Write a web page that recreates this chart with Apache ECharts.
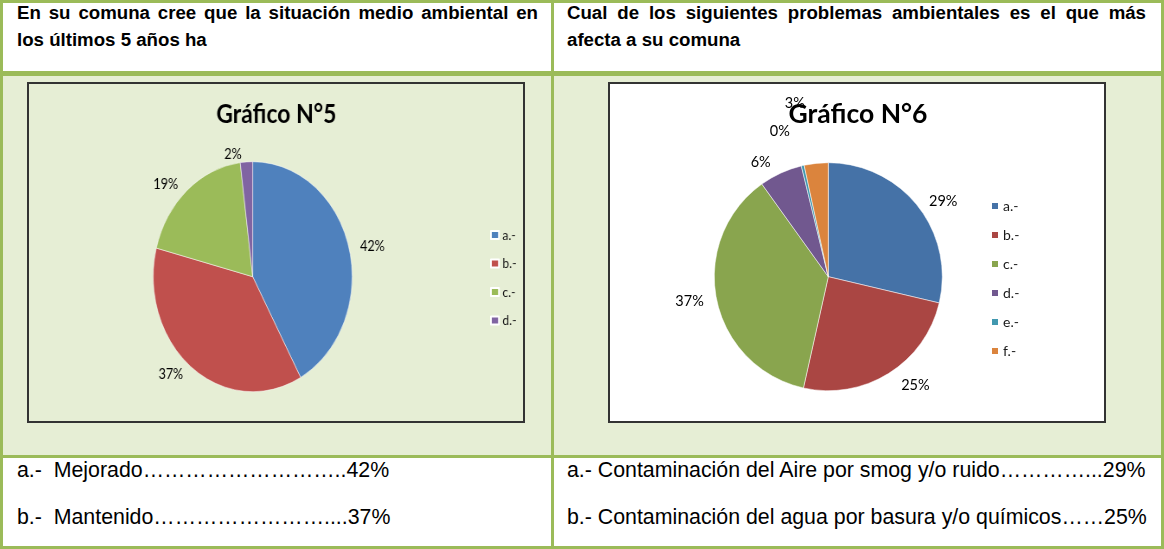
<!DOCTYPE html>
<html lang="es">

<head>
    <meta charset="UTF-8">
    <title>Gráfico N°5 y N°6</title>
    <script src="https://cdn.jsdelivr.net/npm/echarts@6/dist/echarts.min.js"></script>
    <style>
        body { margin: 0; width: 1164px; height: 549px; position: relative; overflow: hidden; background: #fff;
               font-family: "Liberation Sans", Arial, sans-serif; color: #000; }
        .line { position: absolute; background: #9bbb59; }
        .band { position: absolute; background: #e6eed5; }
        .head { position: absolute; top: -1px; font-weight: bold; font-size: 18.67px; line-height: 27px; text-align: justify; }
        .txt { position: absolute; font-size: 21.33px; line-height: 24px; white-space: pre; }
        .box { position: absolute; border: 2px solid #333; box-sizing: border-box; }
        .chart { position: absolute; }
    </style>
</head>

<body>
    <div class="band" style="left:3px;top:76px;width:1158px;height:379px"></div>

    <div class="line" style="left:0;top:0;width:1164px;height:3px"></div>
    <div class="line" style="left:0;top:71px;width:1164px;height:5px"></div>
    <div class="line" style="left:0;top:455px;width:1164px;height:3px"></div>
    <div class="line" style="left:0;top:546px;width:1164px;height:3px"></div>
    <div class="line" style="left:0;top:0;width:3px;height:549px"></div>
    <div class="line" style="left:551px;top:0;width:3px;height:549px"></div>
    <div class="line" style="left:1161px;top:0;width:3px;height:549px"></div>

    <div class="head" style="left:17px;width:521px">En su comuna cree que la situación medio ambiental en los últimos 5 años ha</div>
    <div class="head" style="left:567px;width:579px">Cual de los siguientes problemas ambientales es el que más afecta a su comuna</div>

    <div class="box" style="left:27px;top:82px;width:498px;height:341px"></div>
    <div class="box" style="left:608px;top:82px;width:498px;height:341px;background:#fff"></div>

    <!-- el gráfico 5 está achatado en horizontal, igual que en el original -->
    <div class="chart" id="pie5" style="left:29px;top:84px;width:571px;height:337px;transform:scaleX(0.865);transform-origin:0 0"></div>
    <div class="chart" id="pie6" style="left:610px;top:84px;width:494px;height:337px"></div>

    <div class="txt" style="left:17px;top:458px">a.-  Mejorado………………………..42%</div>
    <div class="txt" style="left:17px;top:505px">b.-  Mantenido……………………....37%</div>
    <div class="txt" style="left:567px;top:458px">a.- Contaminación del Aire por smog y/o ruido…………...29%</div>
    <div class="txt" style="left:567px;top:505px">b.- Contaminación del agua por basura y/o químicos……25%</div>

    <script>
        // datos
        let names5 = ['a.-', 'b.-', 'c.-', 'd.-'];
        let values5 = [42, 37, 19, 2];
        let colors5 = ['#4f81bd', '#c0504d', '#9bbb59', '#8064a2'];

        let names6 = ['a.-', 'b.-', 'c.-', 'd.-', 'e.-', 'f.-'];
        let values6 = [28.7, 24.8, 36.6, 6.1, 0.4, 3.4];
        let colors6 = ['#4572a7', '#aa4643', '#89a54e', '#71588f', '#4198af', '#db843d'];

        function pieOption(title, names, values, colors, o) {
            let data = [];
            for (let i = 0; i < names.length; i++) {
                let item = { name: names[i], value: values[i] };
                // separación de las etiquetas pequeñas, como en Excel
                if (o.lens && o.lens[i]) {
                    item.labelLine = { length: o.lens[i], length2: 0 };
                }
                data.push(item);
            }
            return {
                animation: false,
                color: colors,
                title: {
                    text: title,
                    left: o.titleX,
                    top: 10,
                    textAlign: 'center',
                    textStyle: { fontFamily: 'Lato', fontWeight: 'bold', fontSize: 26.5, lineHeight: 30, color: '#000' }
                },
                legend: {
                    orient: 'vertical',
                    left: o.legendX,
                    top: o.legendY,
                    padding: 0,
                    itemWidth: o.iconW,
                    itemHeight: 8,
                    itemGap: o.gap,
                    icon: 'rect',
                    textStyle: { fontFamily: 'Lato', fontSize: 14, lineHeight: 15, color: '#1a1a1a', padding: [0, 0, 0, -1] },
                    data: names
                },
                series: [{
                    type: 'pie',
                    center: o.center,
                    radius: o.r,
                    startAngle: 90,
                    clockwise: true,
                    avoidLabelOverlap: true,
                    itemStyle: { borderColor: '#fff', borderWidth: 0.5 },
                    label: {
                        show: true,
                        position: 'outside',
                        fontFamily: 'Lato',
                        fontSize: 14.5,
                        color: '#000',
                        formatter: function (p) { return Math.round(p.percent) + '%'; }
                    },
                    labelLine: { show: false, length: 8, length2: 0 },
                    emphasis: { disabled: true },
                    data: data
                }]
            };
        }

        // Gráfico N°5
        (function () {
            let myChart = echarts.init(document.getElementById('pie5'));
            myChart.setOption(pieOption('Gráfico N°5', names5, values5, colors5, {
                titleX: 281, legendX: 533, legendY: 143.5, iconW: 9.25, gap: 13.5,
                center: [258.6, 192.7], r: 115
            }));
        })();

        // Gráfico N°6
        (function () {
            let myChart = echarts.init(document.getElementById('pie6'));
            myChart.setOption(pieOption('Gráfico N°6', names6, values6, colors6, {
                titleX: 243, legendX: 380, legendY: 114.5, iconW: 8, gap: 14,
                center: [218.3, 192.7], r: 114,
                lens: [8, 14, 8, 12, 35, 60]
            }));
        })();
    </script>
</body>

</html>
